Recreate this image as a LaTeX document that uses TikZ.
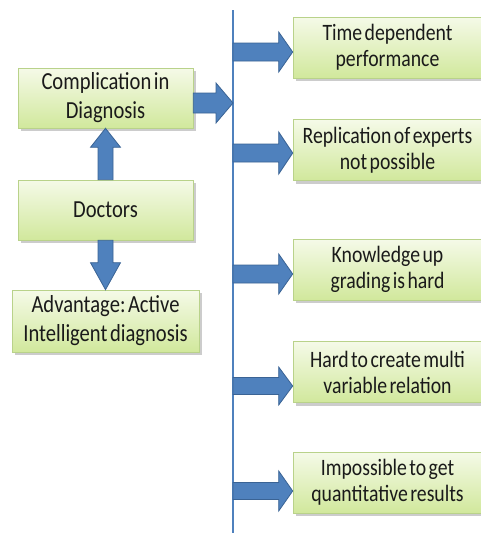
\documentclass[tikz,border=0pt]{standalone}
\usepackage{fontspec}
\setmainfont{Carlito}[FakeStretch=0.84,WordSpace=0.55]
\usetikzlibrary{shadows,calc}
\frenchspacing

\definecolor{arrowblue}{HTML}{4F81BD}
\definecolor{arrowedge}{HTML}{3A6394}
\definecolor{boxtop}{HTML}{F5FAE8}
\definecolor{boxbot}{HTML}{D1E89C}
\definecolor{boxedge}{HTML}{B9D28A}
\definecolor{inktext}{HTML}{1A1A1A}

% block arrow from #1 to #2: shaft half width #3, head half width #4, head length #5
\newcommand{\blockarrow}[5]{%
  \path ($(#2)!#5!(#1)$) coordinate (hb);
  \draw[barrow] ($(#1)!#3!90:(#2)$) -- ($(hb)!#3!90:(#2)$) -- ($(hb)!#4!90:(#2)$)
    -- (#2) -- ($(hb)!#4!-90:(#2)$) -- ($(hb)!#3!-90:(#2)$) -- ($(#1)!#3!-90:(#2)$) -- cycle;}

\begin{document}
\begin{tikzpicture}[x=1pt,y=-1pt,
  box/.style={rectangle, draw=boxedge, line width=0.6pt,
    top color=boxtop, bottom color=boxbot,
    drop shadow={shadow xshift=2.5pt, shadow yshift=-3pt, opacity=.4},
    align=center, text=inktext, inner sep=0pt},
  leftbox/.style={box, minimum width=175pt, minimum height=60pt,
    font=\fontsize{24.5}{29}\selectfont},
  rightbox/.style={box, minimum width=189pt, minimum height=61pt,
    font=\fontsize{23.5}{26}\selectfont},
  barrow/.style={fill=arrowblue, draw=arrowedge, line width=0.8pt, line join=miter},
  spine/.style={draw=arrowblue, line width=2pt}]

\useasboundingbox (0,0) rectangle (481,536);
\clip (0,0) rectangle (481,536);

% left column
\node[leftbox] (comp) at (105.5,98) {Complication in\\Diagnosis};
\node[leftbox] (doc) at (105.5,210) {Doctors};
\node[leftbox, minimum width=187pt, minimum height=62pt] (adv) at (105.5,321)
  {Advantage: Active\\Intelligent diagnosis};

% right column
\node[rightbox] (r1) at (387.5,47.5) {Time dependent\\performance};
\node[rightbox] (r2) at (387.5,150) {Replication of experts\\not possible};
\node[rightbox] (r3) at (387.5,269.5) {Knowledge up\\grading is hard};
\node[rightbox] (r4) at (387.5,372) {Hard to create multi\\variable relation};
\node[rightbox] (r5) at (387.5,482.5) {Impossible to get\\quantitative results};

% vertical spine
\coordinate (stop) at (233,10);
\coordinate (sbot) at (233,533);
\draw[spine] (stop) -- (sbot);

% junctions on the spine
\coordinate (s0) at (233,103);
\coordinate (s1) at (233,52);
\coordinate (s2) at (233,153);
\coordinate (s3) at (233,274);
\coordinate (s4) at (233,386);
\coordinate (s5) at (233,491);
\coordinate (c0) at ($(comp.east)+(0,5)$);
\coordinate (e1) at (r1.west |- s1);
\coordinate (e2) at (r2.west |- s2);
\coordinate (e3) at (r3.west |- s3);
\coordinate (e4) at (r4.west |- s4);
\coordinate (e5) at (r5.west |- s5);

% arrows
\blockarrow{doc.north}{comp.south}{7.5pt}{15pt}{19pt}
\blockarrow{doc.south}{adv.north}{7.5pt}{15pt}{27pt}
\blockarrow{c0}{s0}{10pt}{20pt}{17pt}
\blockarrow{s1}{e1}{9pt}{20pt}{14pt}
\blockarrow{s2}{e2}{9pt}{21pt}{14pt}
\blockarrow{s3}{e3}{9pt}{20pt}{14pt}
\blockarrow{s4}{e4}{8.5pt}{19pt}{14pt}
\blockarrow{s5}{e5}{8.5pt}{20pt}{14pt}
\end{tikzpicture}
\end{document}
